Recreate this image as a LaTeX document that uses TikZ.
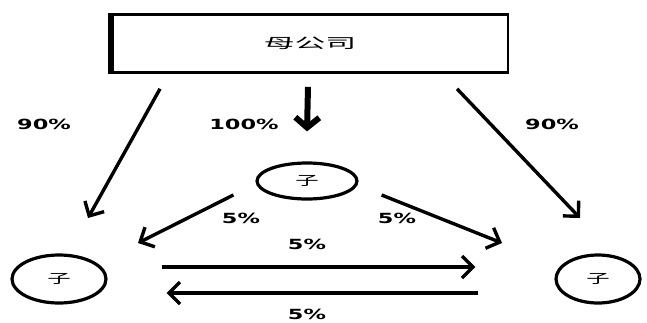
\documentclass[tikz,border=0pt]{standalone}
\usepackage{fontspec}
\setmainfont{DejaVu Sans}
\newfontfamily\cjk{Noto Sans CJK SC}
\usetikzlibrary{arrows.meta,positioning,calc,shapes.geometric}
\newcommand{\wide}[2]{\scalebox{#1}[1]{#2}}

\begin{document}
\begin{tikzpicture}[
  x=1pt, y=1pt,
  every node/.style={inner sep=0pt},
  tip/.style={-{Straight Barb[length=11pt,width=22pt]}},
  conn/.style={tip, line width=3.4pt},
  firm/.style={draw, line width=3.2pt, ellipse, font=\cjk\fontsize{13}{13}\selectfont},
  pct/.style={font=\bfseries\fontsize{14}{14}\selectfont},
]
\useasboundingbox (0,0) rectangle (647,-322);

% parent company and subsidiaries
\node[draw, line width=2.6pt, minimum width=396pt, minimum height=58pt,
      font=\cjk\fontsize{14}{14}\selectfont] (parent) at (310,-43.5) {\wide{2.2}{母公司}};
\draw[line width=6pt] (parent.north west) -- (parent.south west);
\node[firm, minimum width=100pt, minimum height=36pt] (mid) at (307,-181) {\wide{1.8}{子}};
\node[firm, minimum width=94pt, minimum height=48pt] (left) at (59,-279) {\wide{1.8}{子}};
\node[firm, minimum width=84pt, minimum height=48pt] (right) at (598,-279) {\wide{1.8}{子}};

% holdings of the parent
\draw[conn] ($(parent.south)+(-150,-15)$) -- ($(left.center)+(29,61)$);
\draw[line width=6pt, -{Straight Barb[length=10pt,width=24pt]}]
  ($(parent.south)+(-2,-13)$) -- ($(mid.north)+(0,30)$);
\draw[conn] ($(parent.south)+(147,-15)$) -- ($(right.center)+(-18,61)$);
\node[pct] (pl) at (44,-124) {\wide{1.6}{90\%}};
\node[pct] (pm) at (244,-124) {\wide{1.6}{100\%}};
\node[pct] (pr) at (552,-124) {\wide{1.6}{90\%}};

% cross holdings
\draw[conn] ($(mid.west)+(-22,-14)$) -- ($(left.center)+(79,36)$);
\draw[conn] ($(mid.east)+(23,-14)$) -- ($(right.center)+(-96,36)$);
\node[pct] (ml) at (241,-218) {\wide{1.6}{5\%}};
\node[pct] (mr) at (397,-218) {\wide{1.6}{5\%}};

\draw[conn] ($(left.east)+(54,12)$) -- ($(right.west)+(-79,12)$);
\draw[conn] ($(right.west)+(-76,-14)$) -- ($(left.east)+(59,-14)$);
\node[pct] (lr) at (307,-244) {\wide{1.6}{5\%}};
\node[pct] (rl) at (307,-314) {\wide{1.6}{5\%}};
\end{tikzpicture}
\end{document}
